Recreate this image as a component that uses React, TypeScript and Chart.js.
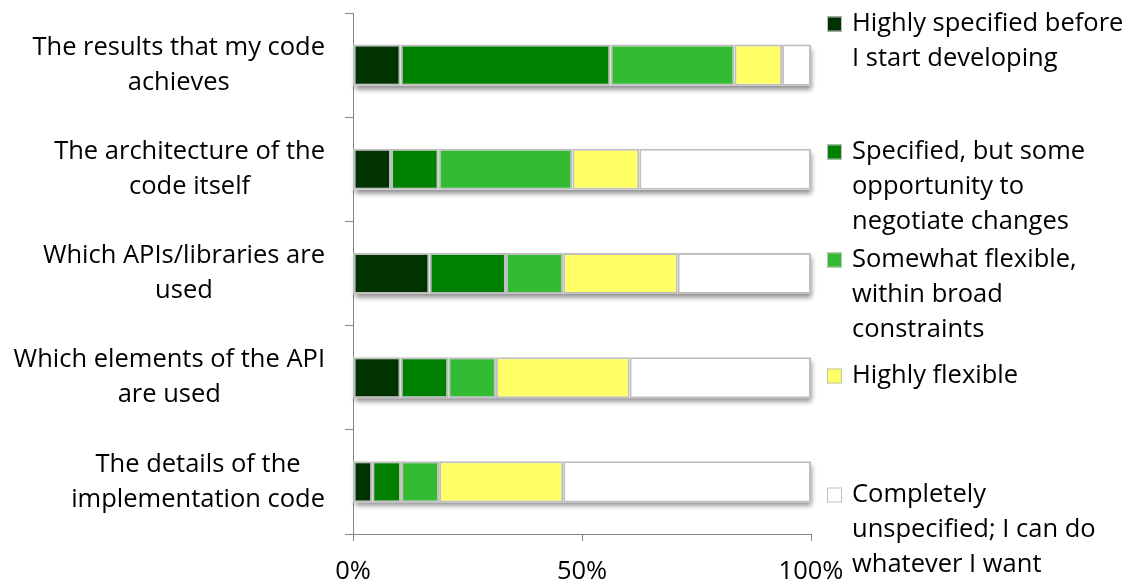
import React, { useEffect, useRef } from "react";
import { Chart, registerables } from "chart.js";

Chart.register(...registerables);

// Survey aspects (y categories), wrapped into display lines
const categories: string[][] = [
  ["The results that my code", "achieves"],
  ["The architecture of the", "code itself"],
  ["Which APIs/libraries are", "used"],
  ["Which elements of the API", "are used"],
  ["The details of the", "implementation code"],
];

// Share of respondents (%) per answer, one value per category
const highlySpecified = [10.4, 8.3, 16.7, 10.4, 4.2];
const specifiedNegotiable = [45.8, 10.4, 16.7, 10.4, 6.3];
const somewhatFlexible = [27.1, 29.2, 12.5, 10.4, 8.3];
const highlyFlexible = [10.4, 14.6, 25.0, 29.2, 27.1];
const completelyUnspecified = [6.3, 37.5, 29.1, 39.6, 54.1];

const seriesNames: string[][] = [
  ["Highly specified before", "I start developing"],
  ["Specified, but some", "opportunity to", "negotiate changes"],
  ["Somewhat flexible,", "within broad", "constraints"],
  ["Highly flexible"],
  ["Completely", "unspecified; I can do", "whatever I want"],
];

const xTicks = [0, 50, 100];

const FONT = "'Open Sans', Lato, sans-serif";
const FONT_SIZE = 25.5;
const LINE_H = 35;
const AXIS_GREY = "#868686";
const BORDER_GREY = "#bfbfbf";
const colors = ["#003300", "#008000", "#33bb33", "#ffff66", "#ffffff"];

// Legend layout (first-line centre of each entry)
const legendX = 827;
const legendTextX = 852;
const legendTops = [24, 152, 260, 376, 495];

const shadowPlugin = {
  id: "barShadow",
  beforeDatasetsDraw(chart: any) {
    const ctx = chart.ctx;
    const first = chart.getDatasetMeta(0);
    const last = chart.getDatasetMeta(chart.data.datasets.length - 1);
    ctx.save();
    ctx.shadowColor = "rgba(0,0,0,0.45)";
    ctx.shadowBlur = 5;
    ctx.shadowOffsetX = 1;
    ctx.shadowOffsetY = 4;
    ctx.fillStyle = "#ffffff";
    first.data.forEach((bar: any, i: number) => {
      const endBar = last.data[i];
      const x0 = bar.base;
      const x1 = endBar.x;
      const h = bar.height;
      ctx.fillRect(x0, bar.y - h / 2, x1 - x0, h);
    });
    ctx.restore();
  },
};

const labelsPlugin = {
  id: "textLayer",
  afterDraw(chart: any) {
    const ctx = chart.ctx;
    const yScale = chart.scales.y;
    ctx.save();
    ctx.font = `${FONT_SIZE}px ${FONT}`;
    ctx.fillStyle = "#000000";
    ctx.textBaseline = "middle";
    ctx.textAlign = "center";

    // category labels: block right-aligned, lines centred inside the block
    const right = yScale.right - 28;
    categories.forEach((lines, i) => {
      const cy = yScale.getPixelForValue(i);
      const maxW = Math.max(...lines.map((l) => ctx.measureText(l).width));
      const cx = right - maxW / 2;
      const y0 = cy - ((lines.length - 1) * LINE_H) / 2;
      lines.forEach((l, k) => ctx.fillText(l, cx, y0 + k * LINE_H));
    });

    // legend
    ctx.textAlign = "left";
    chart.data.datasets.forEach((ds: any, i: number) => {
      const top = legendTops[i];
      const size = 15;
      ctx.fillStyle = ds.backgroundColor;
      ctx.fillRect(legendX, top - size / 2, size, size);
      ctx.strokeStyle = BORDER_GREY;
      ctx.lineWidth = 1;
      ctx.strokeRect(legendX + 0.5, top - size / 2 + 0.5, size - 1, size - 1);
      ctx.fillStyle = "#000000";
      seriesNames[i].forEach((l, k) => ctx.fillText(l, legendTextX, top + k * LINE_H));
    });
    ctx.restore();
  },
};

export default function App() {
  const canvasRef = useRef<HTMLCanvasElement | null>(null);

  useEffect(() => {
    if (!canvasRef.current) return;
    const seriesData = [
      highlySpecified,
      specifiedNegotiable,
      somewhatFlexible,
      highlyFlexible,
      completelyUnspecified,
    ];
    const chart = new Chart(canvasRef.current, {
      type: "bar",
      data: {
        labels: categories.map((c) => c.join(" ")),
        datasets: seriesData.map((d, i) => ({
          label: seriesNames[i].join(" "),
          data: d,
          backgroundColor: colors[i],
          borderColor: BORDER_GREY,
          borderWidth: 2,
          borderSkipped: false,
          barPercentage: 0.394,
          categoryPercentage: 1,
        })),
      },
      options: {
        indexAxis: "y",
        animation: false,
        responsive: false,
        layout: { padding: { top: 13, right: 318, left: 0, bottom: 0 } },
        plugins: {
          legend: { display: false },
          tooltip: { enabled: false },
        },
        scales: {
          x: {
            type: "linear",
            stacked: true,
            min: 0,
            max: 100,
            afterBuildTicks: (scale: any) => {
              scale.ticks = xTicks.map((v) => ({ value: v }));
            },
            afterFit: (scale: any) => {
              scale.height = 47;
            },
            ticks: {
              callback: (v: any) => `${v}%`,
              color: "#000000",
              font: { family: FONT, size: FONT_SIZE },
              padding: 15,
              maxRotation: 0,
            },
            grid: {
              drawOnChartArea: false,
              drawTicks: true,
              tickLength: 7,
              color: AXIS_GREY,
            },
            border: { display: true, color: AXIS_GREY, width: 1 },
          },
          y: {
            type: "category",
            stacked: true,
            offset: true,
            afterFit: (scale: any) => {
              scale.width = 353;
            },
            ticks: { display: false },
            grid: {
              offset: true,
              drawOnChartArea: false,
              drawTicks: true,
              tickLength: 8,
              color: AXIS_GREY,
            },
            border: { display: true, color: AXIS_GREY, width: 1 },
          },
        },
      } as any,
      plugins: [shadowPlugin, labelsPlugin],
    });
    return () => chart.destroy();
  }, []);

  return (
    <div style={{ position: "fixed", left: 0, top: 0, width: 1129, height: 581, background: "#ffffff" }}>
      <canvas ref={canvasRef} width={1129} height={581} />
    </div>
  );
}
